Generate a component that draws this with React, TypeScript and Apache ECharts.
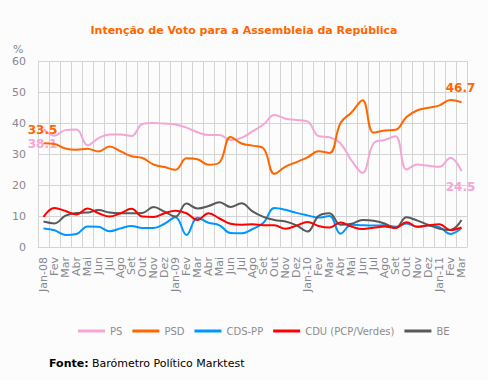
import React, { useEffect, useRef } from "react";
import * as echarts from "echarts";

const months = [
  "Jan-08", "Fev", "Mar", "Abr", "Mai", "Jun", "Jul", "Ago", "Set", "Out", "Nov", "Dez",
  "Jan-09", "Fev", "Mar", "Abr", "Mai", "Jun", "Jul", "Ago", "Set", "Out", "Nov", "Dez",
  "Jan-10", "Fev", "Mar", "Abr", "Mai", "Jun", "Jul", "Ago", "Set", "Out", "Nov", "Dez",
  "Jan-11", "Fev", "Mar",
];

const ps = [38.1, 35.9, 37.7, 37.9, 32.8, 35.1, 36.3, 36.3, 35.8, 39.7, 40.0, 39.8, 39.5, 38.5, 37.0, 36.1, 36.1, 34.5, 35.2, 37.3, 39.5, 42.6, 41.4, 41.0, 40.5, 35.8, 35.4, 33.4, 27.9, 23.9, 33.4, 34.5, 35.7, 25.0, 26.6, 26.2, 25.9, 28.8, 24.5];
const psd = [33.5, 33.2, 31.8, 31.4, 31.7, 30.8, 32.4, 30.9, 29.3, 28.7, 26.6, 25.8, 24.9, 28.6, 28.3, 26.5, 27.3, 35.5, 33.4, 32.7, 31.8, 23.6, 25.9, 27.4, 28.9, 30.9, 30.3, 40.0, 43.4, 47.3, 36.9, 37.6, 37.8, 41.9, 44.1, 44.9, 45.7, 47.4, 46.7];
const cds = [6.0, 5.4, 3.9, 4.2, 6.6, 6.5, 5.1, 6.0, 6.8, 6.1, 6.1, 7.5, 9.6, 3.9, 9.4, 7.8, 7.0, 4.5, 4.4, 5.8, 7.8, 12.6, 12.0, 11.0, 10.2, 9.5, 10.0, 4.3, 7.2, 7.0, 6.9, 7.0, 6.5, 7.6, 6.5, 6.9, 6.4, 4.2, 6.1];
const cdu = [9.7, 12.6, 11.6, 10.5, 12.4, 10.9, 9.8, 10.9, 12.3, 9.8, 9.7, 10.9, 11.7, 10.9, 8.7, 10.9, 9.2, 7.5, 7.2, 7.3, 7.0, 7.0, 5.9, 6.9, 8.1, 6.8, 6.3, 7.9, 6.6, 5.8, 6.2, 6.6, 6.1, 8.0, 6.5, 7.0, 7.3, 5.5, 6.3];
const be = [8.2, 7.6, 10.1, 11.0, 11.1, 11.9, 11.1, 10.9, 10.9, 11.0, 12.9, 11.4, 9.8, 14.0, 12.4, 13.2, 14.4, 12.9, 14.1, 11.5, 9.7, 8.7, 8.2, 7.0, 5.0, 10.0, 10.9, 7.2, 7.5, 8.7, 8.5, 7.6, 6.1, 9.6, 8.5, 7.1, 5.9, 5.5, 8.7];

const FONT = 'Verdana, "DejaVu Sans", sans-serif';
const C_PS = "#f4a6d4";
const C_PSD = "#ff6600";
const C_CDS = "#0096ff";
const C_CDU = "#ff0000";
const C_BE = "#595959";

function labelled(arr: number[], color: string, firstPos: string, firstDist: number, lastPos: string, lastDist: number) {
  const last = arr.length - 1;
  return arr.map((v, i) => {
    if (i === 0 || i === last) {
      return {
        value: v,
        label: {
          show: true,
          position: i === 0 ? firstPos : lastPos,
          distance: i === 0 ? firstDist : lastDist,
          offset: [-1, 0],
          color,
          fontFamily: FONT,
          fontWeight: "bold",
          fontSize: 12,
          formatter: (p: any) => Number(p.value).toFixed(1),
        },
      };
    }
    return v;
  });
}

export default function App() {
  const ref = useRef<HTMLDivElement>(null);
  useEffect(() => {
    document.body.style.margin = "0";
    if (!ref.current) return;
    const chart = echarts.init(ref.current, null, { renderer: "svg" });
    const lineSeries = (name: string, data: any[], color: string, z: number) => ({
      name,
      type: "line",
      data,
      smooth: 0.4,
      showSymbol: true,
      symbol: "circle",
      symbolSize: 0,
      z,
      lineStyle: { color, width: 2 },
      itemStyle: { color },
      emphasis: { disabled: true },
    });
    chart.setOption({
      animation: false,
      backgroundColor: "#fcfcfc",
      textStyle: { fontFamily: FONT },
      title: {
        text: "Intenção de Voto para a Assembleia da República",
        left: "center",
        top: 20,
        textStyle: { color: "#ff6600", fontFamily: FONT, fontWeight: "bold", fontSize: 11 },
      },
      legend: {
        left: 73,
        top: 321,
        itemGap: 10,
        itemWidth: 27,
        itemHeight: 3,
        icon: "rect",
        textStyle: { color: "#8c8c8c", fontSize: 10, fontFamily: FONT },
        data: ["PS", "PSD", "CDS-PP", "CDU (PCP/Verdes)", "BE"],
      },
      grid: { left: 38, right: 21, top: 61, bottom: 133, containLabel: false },
      xAxis: {
        type: "category",
        data: months,
        boundaryGap: true,
        axisLine: { show: true, lineStyle: { color: "#d4d4d4" } },
        axisTick: { show: false },
        splitLine: { show: true, interval: 0, lineStyle: { color: "#d4d4d4", width: 1 } },
        axisLabel: { interval: 0, rotate: 90, color: "#888890", fontSize: 11, margin: 10, fontFamily: FONT },
      },
      yAxis: {
        type: "value",
        min: 0,
        max: 60,
        interval: 10,
        axisLine: { show: true, lineStyle: { color: "#d4d4d4" } },
        axisTick: { show: false },
        splitLine: { show: true, lineStyle: { color: "#d4d4d4", width: 1 } },
        axisLabel: { color: "#888890", fontSize: 11, margin: 12, fontFamily: FONT },
      },
      graphic: [
        {
          type: "text",
          left: 13,
          top: 44,
          style: { text: "%", fill: "#888890", font: `11px ${FONT}` },
        },
        {
          type: "text",
          left: 49,
          top: 357,
          style: {
            text: "{b|Fonte:} {n|Barómetro Político Marktest}",
            rich: {
              b: { fontWeight: "bold", fontSize: 11, fill: "#000", fontFamily: FONT },
              n: { fontSize: 11, fill: "#000", fontFamily: FONT },
            },
          },
        },
      ],
      series: [
        lineSeries("PS", labelled(ps, C_PS, "bottom", 9, "bottom", 10), C_PS, 2),
        lineSeries("PSD", labelled(psd, C_PSD, "top", 7, "top", 8), C_PSD, 3),
        lineSeries("CDS-PP", cds, C_CDS, 2),
        lineSeries("CDU (PCP/Verdes)", cdu, C_CDU, 3),
        lineSeries("BE", be, C_BE, 2),
      ],
    });
    return () => chart.dispose();
  }, []);
  return <div ref={ref} style={{ width: 488, height: 380 }} />;
}
